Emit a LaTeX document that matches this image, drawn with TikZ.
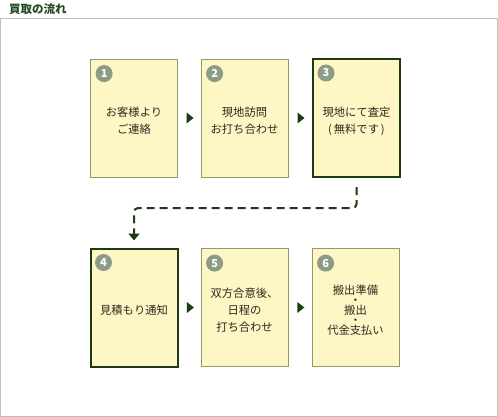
\documentclass[tikz,border=0pt]{standalone}
\usepackage{fontspec}
\setmainfont{Noto Sans CJK JP}
\usetikzlibrary{arrows.meta,shapes.geometric}
\definecolor{boxfill}{HTML}{FEF6C5}
\definecolor{boxline}{HTML}{8F9C63}
\definecolor{darkline}{HTML}{1C3B12}
\definecolor{numdotcol}{HTML}{8A9B86}
\definecolor{framecol}{HTML}{B8C4B8}
\definecolor{titlecol}{HTML}{234A22}
\definecolor{textcol}{HTML}{2A2A1E}

\begin{document}
\begin{tikzpicture}[x=1pt, y=-1pt, font=\fontsize{11.3}{17}\selectfont,
  flowbox/.style={draw=boxline, fill=boxfill, line width=0.8pt, minimum width=87pt, minimum height=118pt, inner sep=0pt},
  keybox/.style={flowbox, draw=darkline, line width=2pt},
  numdot/.style={circle, fill=numdotcol, text=white, minimum size=17pt, inner sep=0pt, font=\fontsize{11}{11}\selectfont\bfseries},
  tri/.style={isosceles triangle, isosceles triangle stretches, fill=darkline, minimum width=11pt, minimum height=7pt, inner sep=0pt}]
  \useasboundingbox (0,0) rectangle (498,417);
  % 見出しと枠
  \node[anchor=west, text=titlecol, inner sep=0pt, font=\fontsize{11.5}{12}\selectfont\bfseries] (title) at (9,9) {買取の流れ};
  \draw[framecol, line width=1pt] (0.5,18.5) -- (497,18.5) -- (497,416) -- (0.5,416) -- cycle;
  % 手順の箱
  \foreach \i/\cx/\cy/\sty/\txt in {1/134/118/flowbox/{お客様より\\ご連絡}, 2/244.5/118/flowbox/{現地訪問\\お打ち合わせ},
      3/356.5/118/keybox/{現地にて査定\\(\,無料です\,)}, 4/134/307.5/keybox/{見積もり通知},
      5/244.5/307.5/flowbox/{双方合意後、\\日程の\\打ち合わせ},
      6/355.5/307.5/flowbox/{搬出準備\\[-7pt]・\\[-7pt]搬出\\[-7pt]・\\[-7pt]代金支払い}} {
    \node[\sty] (b\i) at (\cx,\cy) {};
    \node[numdot] (n\i) at ([xshift=14pt, yshift=-15pt]b\i.north west) {\i};
    \node[align=center, text=textcol] (t\i) at ([yshift=-3pt]b\i.center) {\txt};
  }
  % 矢印
  \path (b1) -- node[tri] (a12) {} (b2);
  \path (b2) -- node[tri] (a23) {} (b3);
  \path (b4) -- node[tri] (a45) {} (b5);
  \path (b5) -- node[tri] (a56) {} (b6);
  \draw[darkline, line width=2pt, dash pattern=on 8pt off 5pt, rounded corners=4pt,
    -{Triangle[length=7pt, width=11pt]}, shorten <=9pt, shorten >=7pt]
    (b3.south) -- ++(0,30) -| (b4.north);
\end{tikzpicture}
\end{document}
